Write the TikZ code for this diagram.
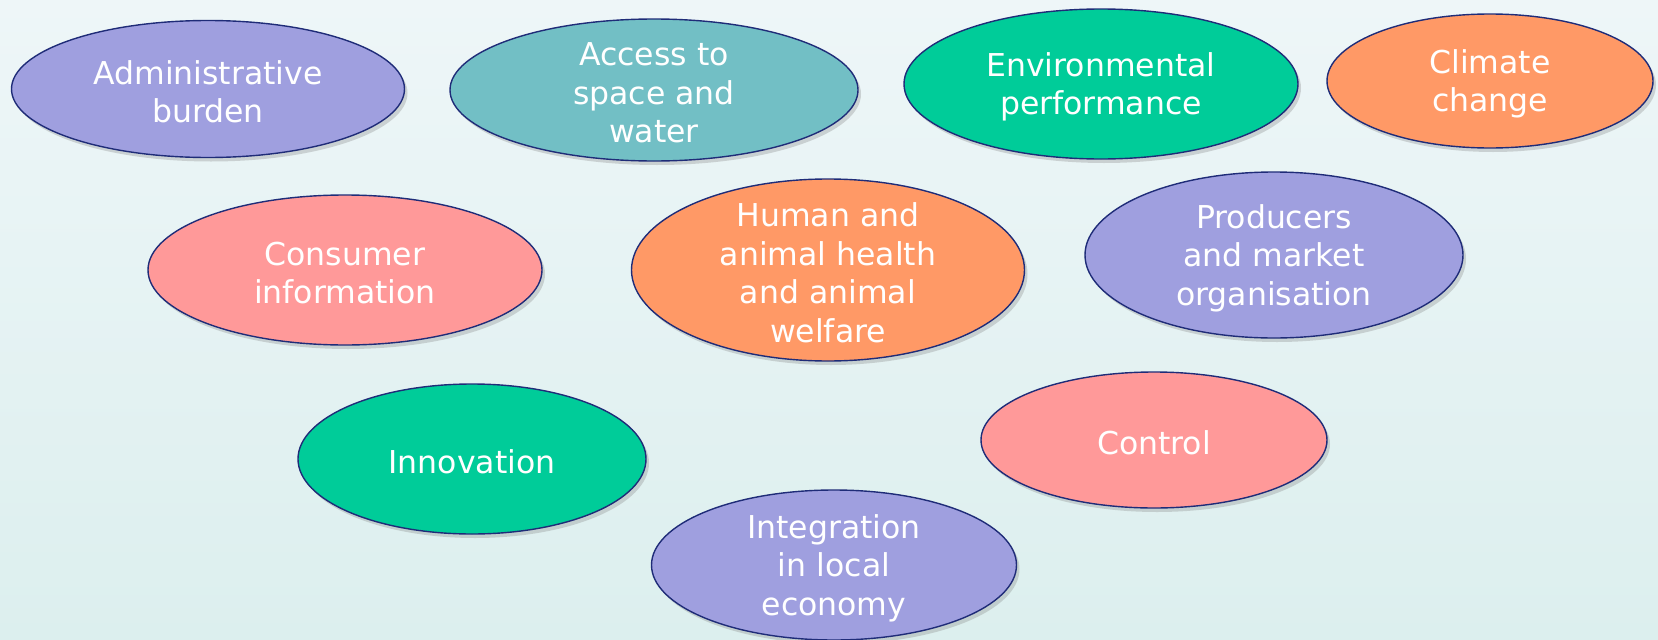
\documentclass[tikz,border=0pt]{standalone}
\usepackage{fontspec}
\setmainfont{DejaVu Sans}
\usepackage{tikz}
\usetikzlibrary{shapes.geometric,shadows}
\definecolor{bgtop}{HTML}{EEF6F8}
\definecolor{bgbottom}{HTML}{DCEFEE}
\definecolor{edgenavy}{HTML}{1F2C78}
\definecolor{lavender}{HTML}{9F9FDF}
\definecolor{tealgrey}{HTML}{72BFC5}
\definecolor{mintgreen}{HTML}{00CC99}
\definecolor{apricot}{HTML}{FF9966}
\definecolor{salmonpink}{HTML}{FF9999}

\begin{document}
\begin{tikzpicture}[x=1pt, y=-1pt,
        topic/.style={ellipse, draw=edgenavy, line width=1.4pt, inner sep=0pt,
            drop shadow={opacity=0.3, shadow xshift=3pt, shadow yshift=-4pt},
            label={[topictext]center:{#1}}},
        topictext/.style={text=white, align=center, inner sep=0pt, yshift=-3pt,
            font=\fontsize{31.5}{38.5}\selectfont},
    ]
        % Background
        \shade[top color=bgtop, bottom color=bgbottom] (0,0) rectangle (1658,640);
        \useasboundingbox (0,0) rectangle (1658,640);
        % Top row
        \node (admin) at (208,89) [topic={Administrative\\burden}, fill=lavender, minimum width=393pt, minimum height=137pt] {};
        \node (access) at (654,90) [topic={Access to\\space and\\water}, fill=tealgrey, minimum width=408pt, minimum height=142pt] {};
        \node (env) at (1101,84) [topic={Environmental\\performance}, fill=mintgreen, minimum width=394pt, minimum height=150pt] {};
        \node (climate) at (1490,81) [topic={Climate\\change}, fill=apricot, minimum width=326pt, minimum height=134pt] {};
        % Middle row
        \node (consumer) at (345,270) [topic={Consumer\\information}, fill=salmonpink, minimum width=394pt, minimum height=150pt] {};
        \node (health) at (828,270) [topic={Human and\\animal health\\and animal\\welfare}, fill=apricot, minimum width=393pt, minimum height=182pt] {};
        \node (producers) at (1274,255) [topic={Producers\\and market\\organisation}, fill=lavender, minimum width=378pt, minimum height=166pt] {};
        % Bottom row
        \node (innov) at (472,459) [topic={Innovation}, fill=mintgreen, minimum width=348pt, minimum height=150pt] {};
        \node (control) at (1154,440) [topic={Control}, fill=salmonpink, minimum width=346pt, minimum height=136pt] {};
        \node (local) at (834,565) [topic={Integration\\in local\\economy}, fill=lavender, minimum width=365pt, minimum height=150pt] {};
\end{tikzpicture}
\end{document}
